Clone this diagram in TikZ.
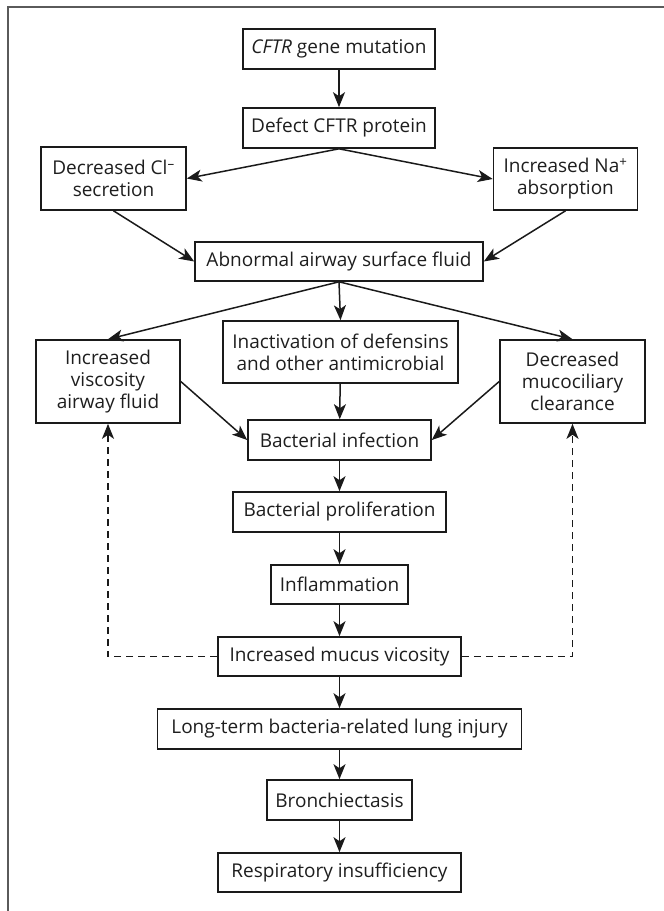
\documentclass[tikz,border=0pt]{standalone}
\usepackage{fontspec}
\setmainfont{Open Sans}
\usetikzlibrary{arrows.meta}
\definecolor{boxc}{HTML}{1A1A1A}
\definecolor{txtc}{HTML}{1E1E1E}
\definecolor{framec}{HTML}{5A5A5A}
\begin{document}
\begin{tikzpicture}[x=1pt,y=-1pt,
  box/.style={draw=boxc, line width=1.6pt, text=txtc, font=\fontsize{19}{22}\selectfont,
    align=center, inner sep=0pt, minimum height=40pt},
  arr/.style={draw=boxc, line width=1.5pt, -{Stealth[length=15pt,width=12pt,inset=4pt]}},
  dasharr/.style={arr, dash pattern=on 7pt off 5pt}
]
\useasboundingbox (0,0) rectangle (664,911);
\draw[framec, line width=1.8pt] (8,911) -- (8,7) -- (664,7);

\node[box, minimum width=192pt] (cftr) at (339,49) {\textit{CFTR} gene mutation};
\node[box, minimum width=192pt] (defect) at (339,128) {Defect CFTR protein};
\node[box, minimum width=145pt, minimum height=63pt] (cl) at (113.5,178.5) {Decreased Cl\textsuperscript{–}\\secretion};
\node[box, minimum width=144pt, minimum height=62pt] (na) at (565.5,179) {Increased Na\textsuperscript{+}\\absorption};
\node[box, minimum width=288pt, minimum height=39pt] (abn) at (339,261.5) {Abnormal airway surface fluid};
\node[box, minimum width=235pt, minimum height=62pt] (inact) at (340.5,352) {Inactivation of defensins\\and other antimicrobial};
\node[box, minimum width=144pt, minimum height=83pt] (visc) at (108,381.5) {Increased\\viscosity\\airway fluid};
\node[box, minimum width=145pt, minimum height=83pt] (muco) at (572.5,381.5) {Decreased\\mucociliary\\clearance};
\node[box, minimum width=183pt] (binf) at (339.5,440) {Bacterial infection};
\node[box, minimum width=213pt] (prolif) at (339.5,512) {Bacterial proliferation};
\node[box, minimum width=137pt, minimum height=39pt] (infl) at (339.5,584.5) {Inflammation};
\node[box, minimum width=243pt, minimum height=39pt] (mucus) at (339.5,656.5) {Increased mucus vicosity};
\node[box, minimum width=364pt] (longt) at (339.5,729) {Long-term bacteria-related lung injury};
\node[box, minimum width=145pt] (bronch) at (339.5,800) {Bronchiectasis};
\node[box, minimum width=243pt, minimum height=39pt] (resp) at (339.5,872.5) {Respiratory insufficiency};

\draw[arr] (cftr) -- (defect);
\draw[arr] (defect.south) -- (cl.east);
\draw[arr] (defect.south) -- (na.west);
\draw[arr] (cl.south) -- (abn.west);
\draw[arr] (na.south) -- (abn.east);
\draw[arr] (abn.south) -- (visc.north);
\draw[arr] (abn.south) -- (inact.north);
\draw[arr] (abn.south) -- (muco.north);
\draw[arr] (visc.east) -- (binf.west);
\draw[arr] (muco.west) -- (binf.east);
\draw[arr] (inact) -- (binf);
\draw[arr] (binf) -- (prolif);
\draw[arr] (prolif) -- (infl);
\draw[arr] (infl) -- (mucus);
\draw[arr] (mucus) -- (longt);
\draw[arr] (longt) -- (bronch);
\draw[arr] (bronch) -- (resp);
\draw[dasharr] (mucus.west) -| (visc.south);
\draw[dasharr] (mucus.east) -| (muco.south);
\end{tikzpicture}
\end{document}
